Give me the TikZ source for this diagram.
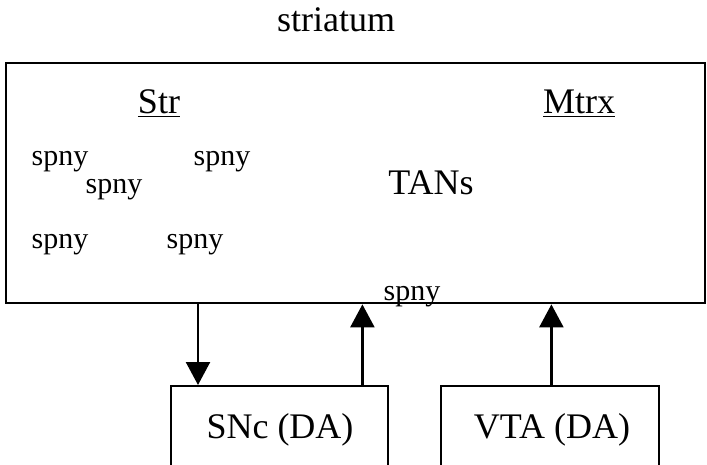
\documentclass[tikz,border=0pt]{standalone}
\usepackage{fontspec}
\setmainfont{Liberation Serif}
\usetikzlibrary{arrows.meta, positioning}

\tikzset{
    region/.style={draw, line width=2.4pt, minimum width=#1, minimum height=100pt, inner sep=0pt},
    cell/.style={font=\fontsize{30}{32}\selectfont, inner sep=0pt, anchor=base},
    area/.style={font=\fontsize{36}{38}\selectfont, inner sep=0pt, anchor=base},
    proj/.style={line width=2.4pt, -{Triangle[length=23pt, width=24pt]}}
}

\begin{document}
\begin{tikzpicture}[x=1pt, y=-1pt]
    \useasboundingbox (0,0) rectangle (707,465);

    % Boxes
    \node[draw, line width=2.4pt, minimum width=699pt, minimum height=240pt, inner sep=0pt, anchor=north west] (striatum) at (5,62) {};
    \node[region=217pt, anchor=north west] (snc) at (170,385) {};
    \node[region=218pt, anchor=north west] (vta) at (440,385) {};

    % Labels
    \node[area] (title) at (336,32) {striatum};
    \node[area] (str) at (159,114) {\underline{Str}};
    \node[area] (mtrx) at (579,114) {\underline{Mtrx}};
    \node[area] (tans) at (431,195) {TANs};

    \node[cell] (spnya) at (60,166) {spny};
    \node[cell] (spnyb) at (114,194) {spny};
    \node[cell] (spnyc) at (222,166) {spny};
    \node[cell] (spnyd) at (60,248) {spny};
    \node[cell] (spnye) at (195,248) {spny};
    \node[cell] (spnyf) at (412,301) {spny};

    \node[area] (snctext) at (280,438) {SNc (DA)};
    \node[area] (vtatext) at (552,438) {VTA (DA)};

    % Projections
    \draw[proj] ([xshift=28pt]snc.north west |- striatum.south) -- ([xshift=28pt]snc.north west);
    \draw[proj] ([xshift=-27pt]snc.north east) -- ([xshift=-27pt]snc.north east |- striatum.south);
    \draw[proj] ([xshift=-109pt]vta.north east) -- ([xshift=-109pt]vta.north east |- striatum.south);
\end{tikzpicture}
\end{document}
